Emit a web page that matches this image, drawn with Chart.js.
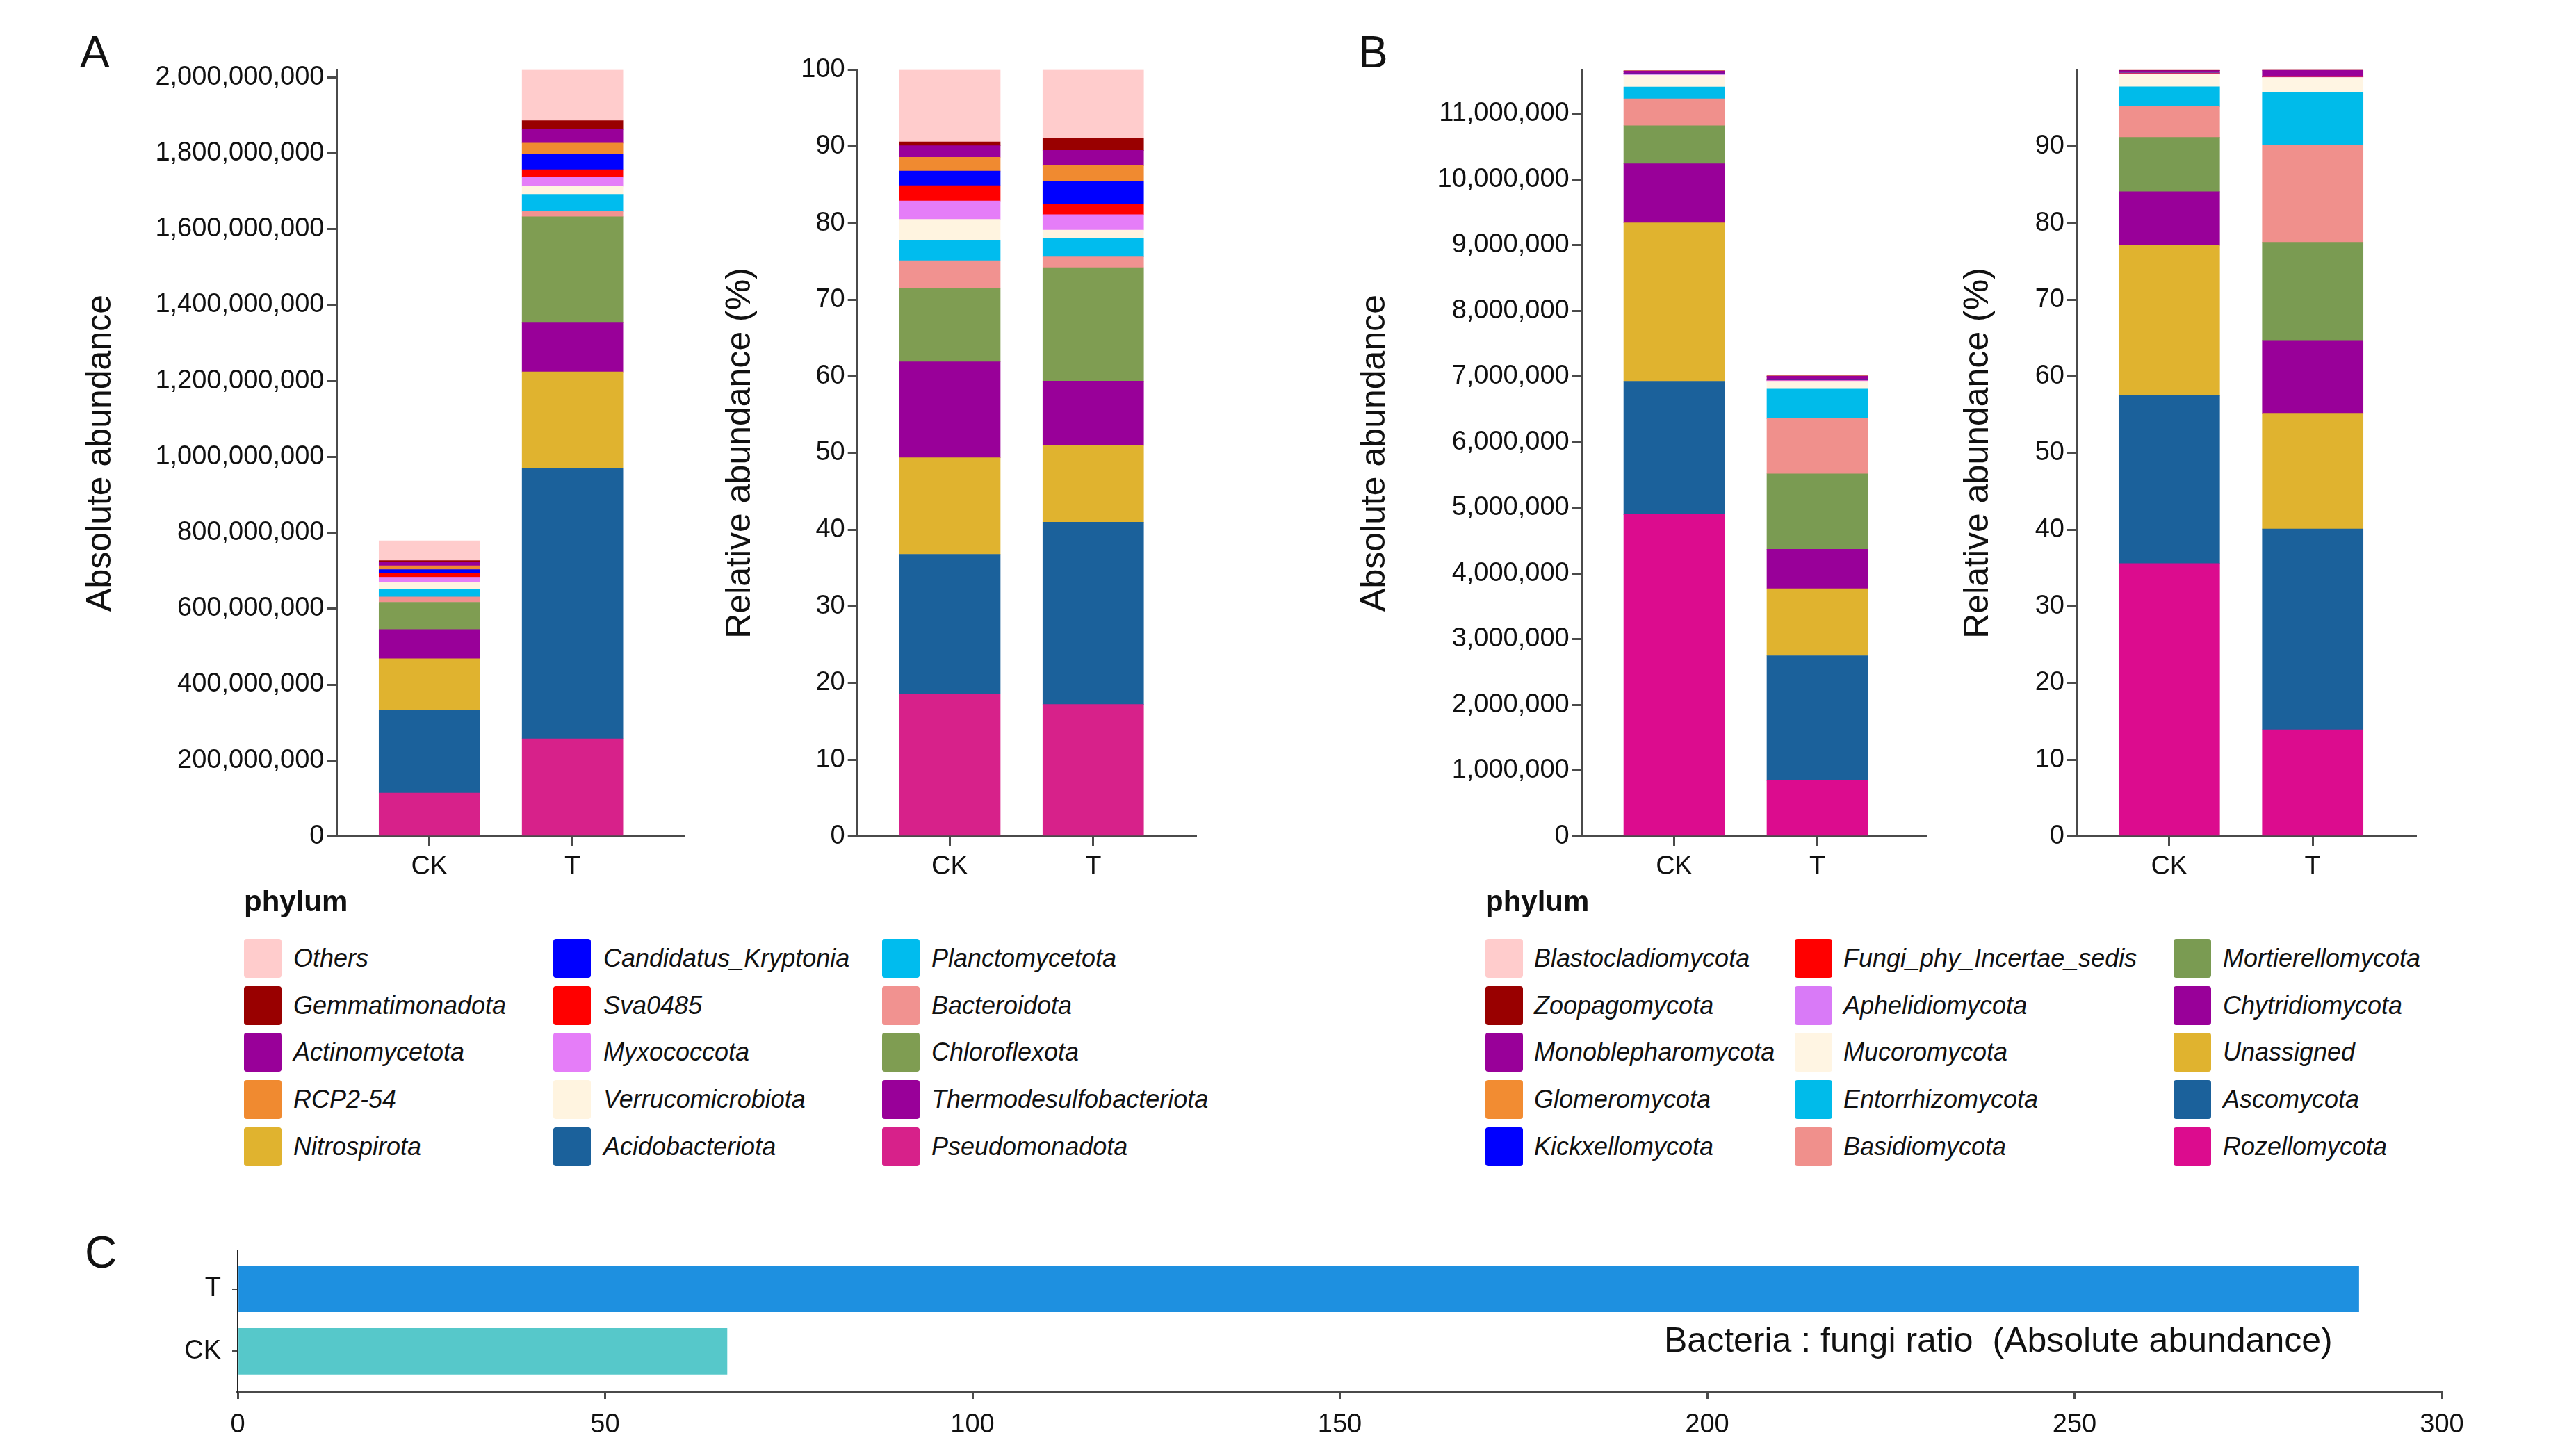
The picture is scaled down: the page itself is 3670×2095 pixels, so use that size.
<!DOCTYPE html>
<html>
<head>
<meta charset="utf-8">
<script src="https://cdn.jsdelivr.net/npm/chart.js@4.4.1/dist/chart.umd.min.js"></script>
<style>
  body { margin: 0; background: #fff; width: 3670px; height: 2095px; position: relative; overflow: hidden;
         font-family: "Liberation Sans", Arial, sans-serif; color: #111; }
  canvas { position: absolute; }
  .panel { position: absolute; font-size: 64px; line-height: 1; }
  .phylum { position: absolute; font-size: 42px; font-weight: bold; line-height: 1; }
  .item { position: absolute; height: 56px; }
  .item .sw { position: absolute; left: 0; top: 0; width: 54px; height: 56px; border-radius: 4px; }
  .item span { position: absolute; top: 0; line-height: 56px; font-size: 36px; font-style: italic; white-space: nowrap; }
  .note { position: absolute; font-size: 50px; line-height: 1; white-space: nowrap; }
</style>
</head>
<body>
<div class="panel" style="left:115px;top:43px">A</div>
<div class="panel" style="left:1954px;top:43px">B</div>
<div class="panel" style="left:122px;top:1770px">C</div>

<canvas id="aAbs" width="1000" height="1280" style="left:0;top:0"></canvas>
<canvas id="aRel" width="760" height="1280" style="left:1000px;top:0"></canvas>
<canvas id="bAbs" width="910" height="1280" style="left:1880px;top:0"></canvas>
<canvas id="bRel" width="880" height="1280" style="left:2790px;top:0"></canvas>
<canvas id="cRatio" width="3670" height="335" style="left:0;top:1760px"></canvas>

<div class="phylum" style="left:351px;top:1276px">phylum</div>
<div class="phylum" style="left:2137px;top:1276px">phylum</div>
<div id="legA"></div>
<div id="legB"></div>
<div class="note" style="left:2394px;top:1903px">Bacteria : fungi ratio&nbsp;&nbsp;(Absolute abundance)</div>

<script>
const groups = ['CK', 'T'];

// bacteria, stack order bottom -> top
const bacteriaPhyla = ['Pseudomonadota', 'Acidobacteriota', 'Nitrospirota', 'Thermodesulfobacteriota',
  'Chloroflexota', 'Bacteroidota', 'Planctomycetota', 'Verrucomicrobiota', 'Myxococcota', 'Sva0485',
  'Candidatus_Kryptonia', 'RCP2-54', 'Actinomycetota', 'Gemmatimonadota', 'Others'];
const bacteriaColors = ['#D7218A', '#1B619B', '#E0B32F', '#990099', '#7F9D52', '#F19290', '#00BCEE',
  '#FFF4E0', '#E57DF8', '#FF0000', '#0000FF', '#F08A30', '#990099', '#990000', '#FFCCCC'];
const bacteriaAbsCK = [114e6, 219e6, 135e6, 77e6, 72e6, 14e6, 21e6, 18e6, 13e6, 10e6, 10e6, 10e6, 9e6, 5e6, 52e6];
const bacteriaAbsT = [257e6, 713e6, 254e6, 129e6, 280e6, 14e6, 45e6, 21e6, 24e6, 20e6, 41e6, 29e6, 36e6, 23e6, 134e6];
const bacteriaRelCK = [18.6, 18.2, 12.6, 12.5, 9.6, 3.6, 2.7, 2.7, 2.4, 2.0, 1.9, 1.8, 1.5, 0.5, 9.4];
const bacteriaRelT = [17.2, 23.8, 10.0, 8.4, 14.8, 1.4, 2.4, 1.1, 2.0, 1.4, 3.0, 2.0, 2.0, 1.6, 8.9];
const bacteriaLegend = ['Others', 'Gemmatimonadota', 'Actinomycetota', 'RCP2-54', 'Nitrospirota',
  'Candidatus_Kryptonia', 'Sva0485', 'Myxococcota', 'Verrucomicrobiota', 'Acidobacteriota',
  'Planctomycetota', 'Bacteroidota', 'Chloroflexota', 'Thermodesulfobacteriota', 'Pseudomonadota'];

// fungi, stack order bottom -> top
const fungiPhyla = ['Rozellomycota', 'Ascomycota', 'Unassigned', 'Chytridiomycota', 'Mortierellomycota',
  'Basidiomycota', 'Entorrhizomycota', 'Mucoromycota', 'Aphelidiomycota', 'Fungi_phy_Incertae_sedis',
  'Kickxellomycota', 'Glomeromycota', 'Monoblepharomycota', 'Zoopagomycota', 'Blastocladiomycota'];
const fungiColors = ['#DC0C8E', '#1B619B', '#E0B32F', '#990099', '#7A9B52', '#F0908C', '#00BBEA',
  '#FFF5E3', '#D97AF7', '#FF0000', '#0000FF', '#F28C32', '#990099', '#990000', '#FFCCCC'];
const fungiAbsCK = [4.90e6, 2.03e6, 2.41e6, 0.90e6, 0.58e6, 0.41e6, 0.18e6, 0.18e6, 0.015e6, 0.005e6, 0.005e6, 0.005e6, 0.03e6, 0.005e6, 0.005e6];
const fungiAbsT = [0.85e6, 1.90e6, 1.02e6, 0.60e6, 1.15e6, 0.84e6, 0.45e6, 0.12e6, 0.01e6, 0.005e6, 0.005e6, 0.005e6, 0.05e6, 0.005e6, 0.005e6];
const fungiRelCK = [35.6, 21.9, 19.6, 7.0, 7.1, 4.0, 2.6, 1.6, 0.1, 0.05, 0.05, 0.05, 0.25, 0.05, 0.05];
const fungiRelT = [13.9, 26.2, 15.1, 9.5, 12.8, 12.7, 6.9, 1.9, 0.05, 0.03, 0.03, 0.03, 0.8, 0.03, 0.03];
const fungiLegend = ['Blastocladiomycota', 'Zoopagomycota', 'Monoblepharomycota', 'Glomeromycota', 'Kickxellomycota',
  'Fungi_phy_Incertae_sedis', 'Aphelidiomycota', 'Mucoromycota', 'Entorrhizomycota', 'Basidiomycota',
  'Mortierellomycota', 'Chytridiomycota', 'Unassigned', 'Ascomycota', 'Rozellomycota'];

// tick values
const bacAbsTicks = [0, 2e8, 4e8, 6e8, 8e8, 1e9, 1.2e9, 1.4e9, 1.6e9, 1.8e9, 2e9];
const relTicks = [0, 10, 20, 30, 40, 50, 60, 70, 80, 90, 100];
const fungiAbsTicks = [0, 1e6, 2e6, 3e6, 4e6, 5e6, 6e6, 7e6, 8e6, 9e6, 10e6, 11e6];
const fungiRelTicks = [0, 10, 20, 30, 40, 50, 60, 70, 80, 90];

// panel C
const ratioGroups = ['CK', 'T'];
const ratioValues = [66.6, 288.7];
const ratioColors = ['#56C8CA', '#1E90E0'];
const ratioTicks = [0, 50, 100, 150, 200, 250, 300];

const FONT = '"Liberation Sans", Arial, sans-serif';
const AXIS = '#4a4a4a';
const tickFont = { family: FONT, size: 38 };

function stackChart(id, phyla, colors, ckVals, tVals, cfg) {
  const datasets = phyla.map((name, i) => ({
    label: name,
    data: [{ x: 0, y: ckVals[i] }, { x: 1, y: tVals[i] }],
    backgroundColor: colors[i],
    borderWidth: 0,
    barThickness: 145
  }));
  return new Chart(document.getElementById(id), {
    type: 'bar',
    data: { datasets: datasets },
    options: {
      responsive: false,
      animation: false,
      layout: { padding: { top: cfg.top, right: cfg.right, left: 0, bottom: 0 } },
      plugins: { legend: { display: false }, tooltip: { enabled: false } },
      scales: {
        x: {
          type: 'linear', stacked: true, offset: false, min: cfg.xMin, max: cfg.xMax,
          afterBuildTicks: s => { s.ticks = groups.map((g, i) => ({ value: i })); },
          afterFit: s => { s.height = cfg.xh; },
          ticks: { callback: v => groups[v], font: tickFont, color: '#111', padding: 7, maxRotation: 0 },
          grid: { offset: false, drawOnChartArea: false, tickLength: 14, color: AXIS, lineWidth: 3 },
          border: { color: AXIS, width: 3 }
        },
        y: {
          stacked: true, min: 0, max: cfg.yMax,
          afterBuildTicks: s => { s.ticks = cfg.ticks.map(v => ({ value: v })); },
          afterFit: s => { s.width = cfg.yw; },
          ticks: { callback: v => v.toLocaleString('en-US'), font: tickFont, color: '#111', padding: 4 },
          grid: { drawOnChartArea: false, tickLength: 14, color: AXIS, lineWidth: 3 },
          border: { color: AXIS, width: 3 },
          title: { display: true, text: cfg.title, color: '#111', font: { family: FONT, size: 50 },
                   padding: { top: cfg.titlePad, bottom: 0 } }
        }
      }
    }
  });
}

stackChart('aAbs', bacteriaPhyla, bacteriaColors, bacteriaAbsCK, bacteriaAbsT,
  { top: 100.5, right: 17, xh: 76.6, yw: 484.4, xMin: -0.648, xMax: 1.774, yMax: 2.02e9,
    ticks: bacAbsTicks, title: 'Absolute abundance', titlePad: 115 });
stackChart('aRel', bacteriaPhyla, bacteriaColors, bacteriaRelCK, bacteriaRelT,
  { top: 100.5, right: 40, xh: 76.6, yw: 233.7, xMin: -0.644, xMax: 1.714, yMax: 100,
    ticks: relTicks, title: 'Relative abundance (%)', titlePad: 35 });
stackChart('bAbs', fungiPhyla, fungiColors, fungiAbsCK, fungiAbsT,
  { top: 100.5, right: 20, xh: 76.6, yw: 395.7, xMin: -0.645, xMax: 1.755, yMax: 11.67e6,
    ticks: fungiAbsTicks, title: 'Absolute abundance', titlePad: 68 });
stackChart('bRel', fungiPhyla, fungiColors, fungiRelCK, fungiRelT,
  { top: 100.5, right: 195, xh: 76.6, yw: 197.9, xMin: -0.644, xMax: 1.716, yMax: 100,
    ticks: fungiRelTicks, title: 'Relative abundance (%)', titlePad: 26 });

new Chart(document.getElementById('cRatio'), {
  type: 'bar',
  data: {
    datasets: [{
      data: ratioGroups.map((g, i) => ({ x: ratioValues[i], y: i })),
      backgroundColor: ratioColors,
      borderWidth: 0,
      barThickness: 66
    }]
  },
  options: {
    indexAxis: 'y',
    responsive: false,
    animation: false,
    layout: { padding: { top: 27, right: 157, left: 0, bottom: 0 } },
    plugins: { legend: { display: false }, tooltip: { enabled: false } },
    scales: {
      x: {
        min: 0, max: 300,
        afterBuildTicks: s => { s.ticks = ratioTicks.map(v => ({ value: v })); },
        afterFit: s => { s.height = 92; },
        ticks: { font: tickFont, color: '#111', padding: 15, maxRotation: 0 },
        grid: { drawOnChartArea: false, tickLength: 10, color: AXIS, lineWidth: 3 },
        border: { color: AXIS, width: 4 }
      },
      y: {
        type: 'linear', offset: false, min: -0.653, max: 1.621,
        afterBuildTicks: s => { s.ticks = ratioGroups.map((g, i) => ({ value: i })); },
        afterFit: s => { s.width = 342; },
        ticks: { callback: v => ratioGroups[v], font: tickFont, color: '#111', padding: 16 },
        grid: { offset: false, drawOnChartArea: false, tickLength: 8, color: AXIS, lineWidth: 2 },
        border: { color: '#222', width: 2 }
      }
    }
  }
});

// legends laid out column by column, five rows each
const rowCenters = [1379, 1447, 1514, 1582, 1650];
function buildLegend(boxId, order, phyla, colors, swatchX, textX) {
  const box = document.getElementById(boxId);
  order.forEach((name, k) => {
    const col = Math.floor(k / 5), row = k % 5;
    const item = document.createElement('div');
    item.className = 'item';
    item.style.left = swatchX[col] + 'px';
    item.style.top = (rowCenters[row] - 28) + 'px';
    const sw = document.createElement('div');
    sw.className = 'sw';
    sw.style.background = colors[phyla.indexOf(name)];
    const txt = document.createElement('span');
    txt.style.left = (textX[col] - swatchX[col]) + 'px';
    txt.textContent = name;
    item.appendChild(sw);
    item.appendChild(txt);
    box.appendChild(item);
  });
}
buildLegend('legA', bacteriaLegend, bacteriaPhyla, bacteriaColors, [351, 796, 1269], [422, 868, 1340]);
buildLegend('legB', fungiLegend, fungiPhyla, fungiColors, [2137, 2582, 3127], [2207, 2652, 3198]);
</script>
</body>
</html>
